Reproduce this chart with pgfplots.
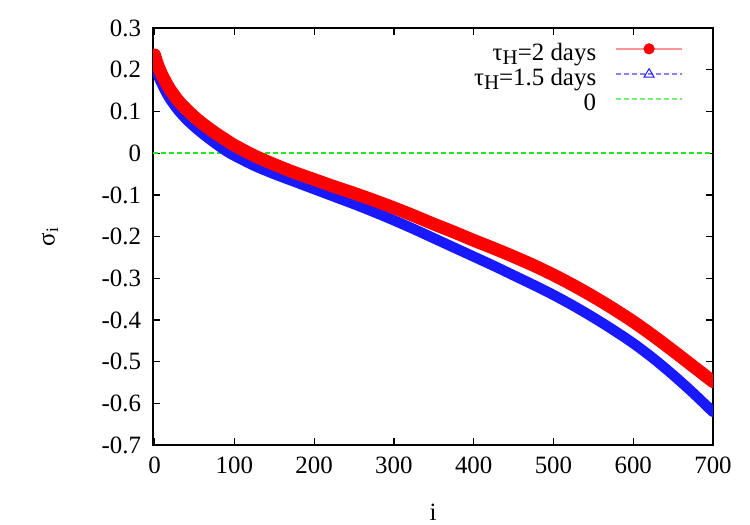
\documentclass[border=0pt]{standalone}
\usepackage{pgfplots}
\pgfplotsset{compat=1.18}
\usepackage{fontspec}
\setmainfont{Liberation Serif}
\definecolor{zerog}{RGB}{30,235,30}
\definecolor{legr}{RGB}{255,150,150}
\definecolor{legb}{RGB}{130,130,255}
\definecolor{legg}{RGB}{120,235,120}
\definecolor{rr}{RGB}{255,0,0}
\definecolor{bb}{RGB}{25,25,255}
\newcommand{\tauH}{τ\raisebox{-2.2bp}{\fontsize{10.5}{10.5}\selectfont H}}
\pgfplotstableread{
i v
0 0.236
3 0.217
6 0.202
10 0.185
15 0.167
20 0.151
30 0.125
40 0.105
50 0.087
60 0.071
75 0.050
90 0.031
100 0.019
125 -0.006
150 -0.027
175 -0.046
200 -0.063
225 -0.080
250 -0.096
275 -0.113
300 -0.131
325 -0.150
350 -0.170
375 -0.189
400 -0.209
425 -0.228
450 -0.248
475 -0.269
500 -0.292
525 -0.317
550 -0.344
575 -0.373
600 -0.404
625 -0.438
650 -0.474
675 -0.511
700 -0.548
}\redtab
\pgfplotstableread{
i v
0 0.212
3 0.193
6 0.179
10 0.163
15 0.144
20 0.128
30 0.102
40 0.081
50 0.063
60 0.047
75 0.025
90 0.005
100 -0.006
125 -0.030
150 -0.050
175 -0.068
200 -0.086
225 -0.104
250 -0.122
275 -0.141
300 -0.161
325 -0.182
350 -0.204
375 -0.226
400 -0.248
425 -0.270
450 -0.293
475 -0.316
500 -0.340
525 -0.366
550 -0.394
575 -0.424
600 -0.456
625 -0.492
650 -0.532
675 -0.575
700 -0.621
}\bluetab
\begin{document}
\begin{tikzpicture}
\useasboundingbox (0,0) rectangle (375bp,262.5bp);
\begin{axis}[
  at={(76.5bp,40bp)}, anchor=south west,
  scale only axis, width=280bp, height=208.4bp,
  xmin=-2, xmax=700, ymin=-0.7, ymax=0.3,
  xtick={0,100,200,300,400,500,600,700},
  xticklabels={0,100,200,300,400,500,600,700},
  ytick={-0.7,-0.6,-0.5,-0.4,-0.3,-0.2,-0.1,0,0.1,0.2,0.3},
  yticklabels={-0.7,-0.6,-0.5,-0.4,-0.3,-0.2,-0.1,0,0.1,0.2,0.3},
  tick align=inside, major tick length=3.5bp,
  tick style={black, line width=0.6bp},
  axis line style={line width=0.8bp},
  font=\fontsize{12.5}{15}\selectfont,
  xticklabel style={yshift=-2.5bp},
  yticklabel style={xshift=-2.5bp},
  xlabel={i}, ylabel={σ\textsubscript{i}},
  every axis x label/.style={at={(axis description cs:0.5,-0.161)}, anchor=center},
  every axis y label/.style={at={(axis description cs:-0.184,0.5)}, anchor=center, rotate=90},
  legend cell align=right, legend plot pos=right,
  legend style={draw=none, fill=none, at={(0.9464,0.966)}, anchor=north east,
    inner sep=0pt, outer sep=0pt, row sep=0pt, column sep=9.5bp,
    nodes={inner sep=0pt, text height=9bp, text depth=3.5bp},
    font=\fontsize{12.5}{15}\selectfont},
]
\addlegendimage{legend image code/.code={
  \draw[line width=0.9bp, legr] (0bp,3bp) -- (33bp,3bp);
  \fill[rr] (16.5bp,3bp) circle (2.6bp);}}
\addlegendentry{\tauH=2 days}
\addlegendimage{legend image code/.code={
  \draw[line width=0.9bp, legb, dash pattern=on 2.5bp off 1.5bp] (0bp,3bp) -- (33bp,3bp);
  \draw[line width=0.5bp, bb] (16.5bp,5.6bp) -- (14bp,1.4bp) -- (19bp,1.4bp) -- cycle;}}
\addlegendentry{\tauH=1.5 days}
\addlegendimage{legend image code/.code={
  \draw[line width=0.9bp, legg, dash pattern=on 2.5bp off 1.5bp] (0bp,3bp) -- (33bp,3bp);}}
\addlegendentry{0}
\addplot[forget plot, draw=zerog, line width=0.9bp, dash pattern=on 2.5bp off 1.5bp] coordinates {(-2,0) (700,0)};
\addplot[forget plot, bb, line width=5.2bp, line cap=round, smooth] table[x=i,y=v] {\bluetab};
\addplot[forget plot, rr, line width=6.4bp, line cap=round, smooth] table[x=i,y=v] {\redtab};
\end{axis}
\end{tikzpicture}
\end{document}
